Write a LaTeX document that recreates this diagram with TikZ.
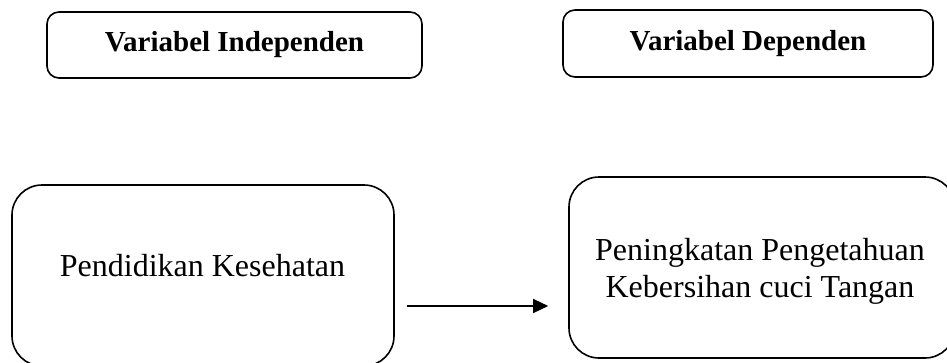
\documentclass[tikz,border=0pt]{standalone}
\usepackage{fontspec}
\setmainfont{Liberation Serif}
\usetikzlibrary{arrows.meta}
\begin{document}
\begin{tikzpicture}[x=1pt,y=-1pt,
  hdrbox/.style={draw, line width=1.6pt, rounded corners=12pt, inner sep=0pt},
  bigbox/.style={draw, line width=1.6pt, rounded corners=30pt, inner sep=0pt},
  hdrtext/.style={inner sep=0pt, font=\fontsize{29}{34}\selectfont\bfseries},
  bodytext/.style={inner sep=0pt, align=center, font=\fontsize{32}{37}\selectfont},
  flow/.style={line width=1.4pt, -{Triangle[length=15pt,width=14pt]}}]
\useasboundingbox (0,0) rectangle (947,362);
\clip (0,0) rectangle (947,362);
\fill[white] (0,0) rectangle (947,362);
% header boxes
\node[hdrbox, minimum width=375pt, minimum height=66pt] (indepbox) at (234.5,45) {};
\node[hdrtext] (indeptxt) at (234.5,45) {Variabel Independen};
\node[hdrbox, minimum width=370pt, minimum height=67pt] (depbox) at (748,43.5) {};
\node[hdrtext] (deptxt) at (748,43.5) {Variabel Dependen};
% main boxes
\node[bigbox, minimum width=382pt, minimum height=181pt] (pend) at (203,275.5) {};
\node[bodytext] (pendtxt) at (202.5,266) {Pendidikan Kesehatan};
\node[bigbox, minimum width=386pt, minimum height=181pt] (peng) at (762,267.5) {};
\node[bodytext] (pengtxt) at (760,271) {Peningkatan Pengetahuan\\Kebersihan cuci Tangan};
% connector
\draw[flow] ([xshift=12pt,yshift=-30.5pt]pend.east) -- ([xshift=-20pt,yshift=-38.5pt]peng.west);
\end{tikzpicture}
\end{document}
